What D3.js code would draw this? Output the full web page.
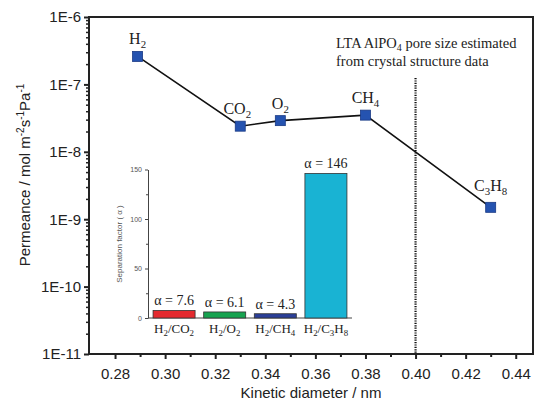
<!DOCTYPE html>
<html lang="en">
  <head>
    <meta charset="utf-8">
    <title>Permeance vs kinetic diameter</title>
    <script src="https://cdn.jsdelivr.net/npm/d3@7"></script>
    <style>
      body { margin: 0; background: #fff; }
      svg text { fill: #222; }
    </style>
  </head>
  <body>
    <script>
      // main series: kinetic diameter (nm) vs permeance
      const gases = ["H2", "CO2", "O2", "CH4", "C3H8"];
      const diameter = [0.289, 0.33, 0.346, 0.38, 0.43];
      const permeance = [2.6e-7, 2.4e-8, 2.9e-8, 3.5e-8, 1.5e-9];
      const xTicks = [0.28, 0.30, 0.32, 0.34, 0.36, 0.38, 0.40, 0.42, 0.44];
      const yTicks = [1e-6, 1e-7, 1e-8, 1e-9, 1e-10, 1e-11];
      const poreSize = 0.40;

      // inset: separation factors
      const pairs = ["H2/CO2", "H2/O2", "H2/CH4", "H2/C3H8"];
      const alpha = [7.6, 6.1, 4.3, 146];
      const barColors = ["#e42a2f", "#17a350", "#2b3f98", "#19b3d3"];
      const insetTicks = [0, 50, 100, 150];

      const SERIF = "'Liberation Serif', 'DejaVu Serif', serif";
      const SANS = "'Liberation Sans', Arial, sans-serif";

      const svg = d3.select("body").append("svg")
        .attr("width", 540)
        .attr("height", 406);

      const x = d3.scaleLinear().domain([0.2696, 0.4469]).range([89, 533]);
      const y = d3.scaleLog().domain([1e-11, 1e-6]).range([354, 17]);

      // frame
      svg.append("rect")
        .attr("x", 89).attr("y", 17)
        .attr("width", 533 - 89).attr("height", 354 - 17)
        .attr("fill", "none").attr("stroke", "#222").attr("stroke-width", 2);

      // x axis
      const xAxis = svg.append("g").attr("transform", "translate(0,354)")
        .call(d3.axisBottom(x).tickValues(xTicks).tickFormat(d3.format(".2f")).tickSize(5).tickSizeOuter(0));
      xAxis.select(".domain").remove();
      xAxis.selectAll("line").attr("stroke", "#222").attr("stroke-width", 2);
      xAxis.selectAll("text").attr("font-family", SANS).attr("font-size", 15).attr("dy", "1.1em");
      svg.append("g").attr("transform", "translate(0,354)")
        .call(d3.axisBottom(x).tickValues(d3.range(0.29, 0.45, 0.02)).tickFormat("").tickSize(3).tickSizeOuter(0))
        .call(g => g.select(".domain").remove())
        .selectAll("line").attr("stroke", "#222").attr("stroke-width", 2);

      // y axis (log) with minor ticks
      const yAxis = svg.append("g").attr("transform", "translate(89,0)")
        .call(d3.axisLeft(y).tickValues(yTicks).tickFormat(d => "1E" + Math.round(Math.log10(d))).tickSize(5).tickSizeOuter(0));
      yAxis.select(".domain").remove();
      yAxis.selectAll("line").attr("stroke", "#222").attr("stroke-width", 2);
      yAxis.selectAll("text").attr("font-family", SANS).attr("font-size", 15);
      const minor = [];
      for (let e = -11; e < -6; e++) for (let m = 2; m < 10; m++) minor.push(m * Math.pow(10, e));
      svg.append("g").attr("transform", "translate(89,0)")
        .call(d3.axisLeft(y).tickValues(minor).tickFormat("").tickSize(3).tickSizeOuter(0))
        .call(g => g.select(".domain").remove())
        .selectAll("line").attr("stroke", "#222").attr("stroke-width", 1.5);

      // axis titles
      svg.append("text")
        .attr("x", 311).attr("y", 398)
        .attr("text-anchor", "middle")
        .attr("font-family", SANS).attr("font-size", 15)
        .text("Kinetic diameter / nm");

      const yl = svg.append("text")
        .attr("transform", "translate(30,175) rotate(-90)")
        .attr("text-anchor", "middle")
        .attr("font-family", SANS).attr("font-size", 15);
      yl.append("tspan").text("Permeance / mol m");
      yl.append("tspan").attr("dy", -6).attr("font-size", 10).text("-2");
      yl.append("tspan").attr("dy", 6).text("s");
      yl.append("tspan").attr("dy", -6).attr("font-size", 10).text("-1");
      yl.append("tspan").attr("dy", 6).text("Pa");
      yl.append("tspan").attr("dy", -6).attr("font-size", 10).text("-1");

      // pore size marker
      svg.append("line")
        .attr("x1", x(poreSize)).attr("x2", x(poreSize))
        .attr("y1", 78).attr("y2", 354)
        .attr("stroke", "#111").attr("stroke-width", 2.2)
        .attr("stroke-dasharray", "1.2,1.2");

      const note = svg.append("text")
        .attr("font-family", SERIF).attr("font-size", 14.5);
      const l1 = note.append("tspan").attr("x", 336).attr("y", 48);
      l1.append("tspan").text("LTA AlPO");
      l1.append("tspan").attr("dy", 3).attr("font-size", 10).text("4");
      l1.append("tspan").attr("dy", -3).text(" pore size estimated");
      note.append("tspan").attr("x", 336).attr("y", 66).text("from crystal structure data");

      // line + markers
      const pts = diameter.map((d, i) => [d, permeance[i]]);
      svg.append("path")
        .datum(pts)
        .attr("fill", "none").attr("stroke", "#111").attr("stroke-width", 1.6)
        .attr("d", d3.line().x(d => x(d[0])).y(d => y(d[1])));
      svg.selectAll(".pt").data(pts).enter().append("rect")
        .attr("x", d => x(d[0]) - 5).attr("y", d => y(d[1]) - 5)
        .attr("width", 10).attr("height", 10)
        .attr("fill", "#2553b0").attr("stroke", "#1a3a85").attr("stroke-width", 0.8);

      // chemical formulas with subscript digits
      function chem(sel, formula, size) {
        const shift = size * 0.25;
        let sub = false;
        formula.match(/[A-Z][a-z]?|\d+|\//g).forEach(tok => {
          const isNum = /^\d+$/.test(tok);
          const ts = sel.append("tspan").text(tok);
          if (isNum && !sub) { ts.attr("dy", shift); sub = true; }
          else if (!isNum && sub) { ts.attr("dy", -shift); sub = false; }
          if (isNum) ts.attr("font-size", size * 0.68);
        });
      }
      const labelOffset = [[0, -12], [-3, -12], [0, -12], [0, -12], [0, -16]];
      gases.forEach((g, i) => {
        const t = svg.append("text")
          .attr("x", x(diameter[i]) + labelOffset[i][0])
          .attr("y", y(permeance[i]) + labelOffset[i][1])
          .attr("text-anchor", "middle")
          .attr("font-family", SERIF).attr("font-size", 16);
        chem(t, g, 16);
      });

      // inset bar chart
      const ix = d3.scaleBand().domain(pairs).range([148, 352]).paddingInner(0.17).paddingOuter(0.1);
      const iy = d3.scaleLinear().domain([0, 150]).range([318, 169.5]);

      svg.append("g").attr("transform", "translate(148,0)")
        .call(d3.axisLeft(iy).tickValues(insetTicks).tickSize(3).tickSizeOuter(0))
        .call(g => g.select(".domain").attr("stroke", "#444"))
        .call(g => g.selectAll("line").attr("stroke", "#444"))
        .call(g => g.selectAll("text").attr("font-family", SANS).attr("font-size", 7).style("fill", "#555"));
      svg.append("g").attr("transform", "translate(148,0)")
        .call(d3.axisLeft(iy).tickValues([25, 75, 125]).tickFormat("").tickSize(2).tickSizeOuter(0))
        .call(g => g.select(".domain").remove())
        .selectAll("line").attr("stroke", "#444");
      svg.append("line")
        .attr("x1", 148).attr("x2", 352).attr("y1", 318).attr("y2", 318)
        .attr("stroke", "#444").attr("stroke-width", 1);

      svg.append("text")
        .attr("transform", "translate(122,244) rotate(-90)")
        .attr("text-anchor", "middle")
        .attr("font-family", SANS).attr("font-size", 8).style("fill", "#555")
        .text("Separation factor ( \u03b1 )");

      svg.selectAll(".bar").data(pairs).enter().append("rect")
        .attr("x", d => ix(d))
        .attr("y", (d, i) => iy(alpha[i]))
        .attr("width", ix.bandwidth())
        .attr("height", (d, i) => iy(0) - iy(alpha[i]))
        .attr("fill", (d, i) => barColors[i])
        .attr("stroke", "#333").attr("stroke-width", 0.8);

      pairs.forEach((p, i) => {
        svg.append("text")
          .attr("x", ix(p) + ix.bandwidth() / 2)
          .attr("y", iy(alpha[i]) - 5)
          .attr("text-anchor", "middle")
          .attr("font-family", SERIF).attr("font-size", 14)
          .text("\u03b1 = " + alpha[i]);
        const t = svg.append("text")
          .attr("x", ix(p) + ix.bandwidth() / 2)
          .attr("y", 333)
          .attr("text-anchor", "middle")
          .attr("font-family", SERIF).attr("font-size", 13);
        chem(t, p, 13);
      });
    </script>
  </body>
</html>
